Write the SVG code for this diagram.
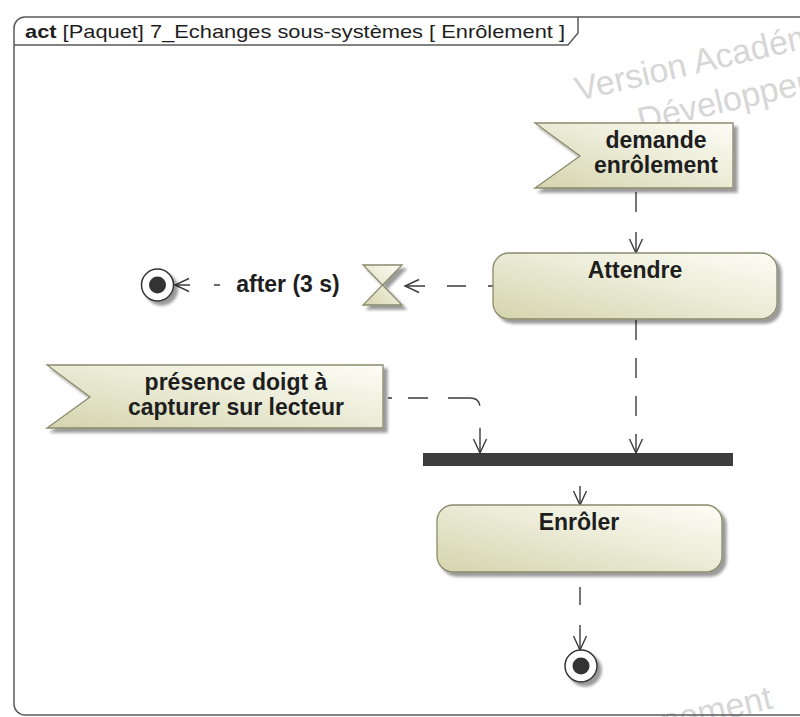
<svg xmlns="http://www.w3.org/2000/svg" width="800" height="717" viewBox="0 0 800 717">
  <style>
    .node { fill: url(#nodeFill); stroke: #8a8a6c; stroke-width: 1.3; filter: url(#shadow); }
    .label { font-family: "Liberation Sans", Arial, sans-serif; font-size: 23px; font-weight: bold; fill: #1e1e1e; text-anchor: middle; }
    .flow { fill: none; stroke: #3c3c3c; stroke-width: 1.4; }
    .mark { font-family: "Liberation Sans", Arial, sans-serif; font-size: 34px; fill: #d6d6d6; }
    .frame { fill: none; stroke: #5a5a5a; stroke-width: 1.5; }
  </style>
  <defs>
    <linearGradient id="nodeFill" x1="0" y1="1" x2="1" y2="0">
      <stop offset="0" stop-color="#d4d4ae"/>
      <stop offset="0.55" stop-color="#ececd8"/>
      <stop offset="1" stop-color="#fdfdf6"/>
    </linearGradient>
    <filter id="shadow" x="-10%" y="-10%" width="130%" height="150%">
      <feGaussianBlur in="SourceAlpha" stdDeviation="1.5"/>
      <feOffset dx="4" dy="4"/>
      <feComponentTransfer><feFuncA type="linear" slope="0.4"/></feComponentTransfer>
      <feMerge><feMergeNode/><feMergeNode in="SourceGraphic"/></feMerge>
    </filter>
    <marker id="open" viewBox="-15 -8 17 16" refX="0" refY="0" markerWidth="17" markerHeight="16" markerUnits="userSpaceOnUse" orient="auto">
      <path d="M-14,-6.5 L0,0 L-14,6.5" fill="none" stroke="#3c3c3c" stroke-width="1.4"/>
    </marker>
  </defs>

  <rect width="800" height="717" fill="#ffffff"/>

  <!-- watermark, drawn behind everything -->
  <g id="watermark">
    <g transform="translate(578,101) rotate(-13)">
      <text class="mark" x="0" y="0">Version Académique</text>
      <text class="mark" x="54" y="44">Développement</text>
    </g>
    <text class="mark" text-anchor="end" transform="translate(774,708) rotate(-13)">Développement</text>
  </g>

  <!-- diagram frame with its name tab -->
  <g id="frame">
    <rect class="frame" x="14" y="17" width="830" height="698" rx="11"/>
    <path class="frame" d="M14,45 H568 L578,33 V17"/>
    <text x="25" y="38" font-family="Liberation Sans, Arial, sans-serif" font-size="19" fill="#1e1e1e" textLength="540" lengthAdjust="spacingAndGlyphs"><tspan font-weight="bold">act</tspan> [Paquet] 7_Echanges sous-systèmes [ Enrôlement ]</text>
  </g>

  <!-- connectors -->
  <g id="connectors">
    <path class="flow" d="M636,192 V253" stroke-dasharray="20 20" marker-end="url(#open)"/>
    <path class="flow" d="M636,320 V453" stroke-dasharray="20 18" marker-end="url(#open)"/>
    <path class="flow" d="M388,398 H470 Q480,398 480,408 V453" stroke-dasharray="4 16 20 20 36 22 100" marker-end="url(#open)"/>
    <path class="flow" d="M493,286 H405" stroke-dasharray="5 22 19 22 30" marker-end="url(#open)"/>
    <path class="flow" d="M220,285 H175" stroke-dasharray="6 24 30" marker-end="url(#open)"/>
    <path class="flow" d="M580,486 V505" marker-end="url(#open)"/>
    <path class="flow" d="M580,587 V650" stroke-dasharray="18 20 40" marker-end="url(#open)"/>
    <text class="label" x="288" y="292">after (3 s)</text>
  </g>

  <!-- accept event: demande enrôlement -->
  <g id="demande-enrolement">
    <polygon class="node" points="535,123 733,123 733,188 535,188 580,156"/>
    <text class="label" x="656" y="148">demande</text>
    <text class="label" x="656" y="173">enrôlement</text>
  </g>

  <!-- action: Attendre -->
  <g id="attendre">
    <rect class="node" x="493" y="253" width="284" height="66" rx="16"/>
    <text class="label" x="635" y="278">Attendre</text>
  </g>

  <!-- time event -->
  <g id="timer">
    <polygon class="node" points="363,265 402,265 363,305 402,305"/>
  </g>

  <!-- flow end after the timeout -->
  <g id="final-timeout">
    <circle cx="157.5" cy="285" r="16" fill="#ffffff" stroke="#333333" stroke-width="1.5" filter="url(#shadow)"/>
    <circle cx="157.5" cy="285" r="8.5" fill="#333333"/>
  </g>

  <!-- accept event: présence doigt -->
  <g id="presence-doigt">
    <polygon class="node" points="47,365 383,365 383,428 47,428 90,397"/>
    <text class="label" x="236" y="390">présence doigt à</text>
    <text class="label" x="236" y="415">capturer sur lecteur</text>
  </g>

  <!-- join bar -->
  <g id="join">
    <rect x="423" y="453" width="310" height="13" fill="#3d3d3d"/>
  </g>

  <!-- action: Enrôler -->
  <g id="enroler">
    <rect class="node" x="437" y="505" width="285" height="67" rx="16"/>
    <text class="label" x="579" y="530">Enrôler</text>
  </g>

  <!-- activity final -->
  <g id="final">
    <circle cx="581" cy="666" r="16" fill="#ffffff" stroke="#333333" stroke-width="1.5" filter="url(#shadow)"/>
    <circle cx="581" cy="666" r="8.5" fill="#333333"/>
  </g>
</svg>
